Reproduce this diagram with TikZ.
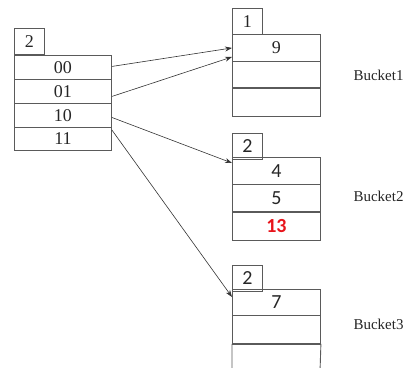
\documentclass[tikz,border=0pt]{standalone}
\usepackage{fontspec}
\setmainfont{Liberation Serif}
\newfontfamily\calfont{Carlito}
\usetikzlibrary{arrows.meta}
\definecolor{boxgray}{HTML}{5A5A5A}
\definecolor{keyred}{HTML}{E8141B}
\begin{document}
\begin{tikzpicture}[x=1pt,y=-1pt,
  cell/.style={draw=boxgray,line width=0.9pt,minimum width=88pt,minimum height=27pt,
    inner sep=0pt,anchor=north west,font=\fontsize{18}{20}\selectfont,text=black!85},
  dircell/.style={cell,minimum width=97pt,minimum height=24pt},
  depth/.style={draw=boxgray,line width=0.9pt,minimum width=30pt,minimum height=26pt,
    inner sep=0pt,anchor=north west,font=\fontsize{18}{20}\selectfont,text=black!85},
  sanscell/.style={font=\calfont\fontsize{20}{22}\selectfont},
  thickline/.style={boxgray,line width=1.8pt},
  ptr/.style={black!80,line width=0.6pt,-{Stealth[length=7pt,width=5pt]}},
  label/.style={anchor=west,font=\fontsize{15}{17}\selectfont,text=black!85}]
\useasboundingbox (0,0) rectangle (409,367);

% directory
\node[depth] (gd) at (14,28) {2};
\node[dircell] (d00) at (14,55)   {00};
\node[dircell,minimum height=24pt] (d01) at (14,79) {01};
\node[dircell,minimum height=24pt] (d10) at (14,103) {10};
\node[dircell,minimum height=23pt] (d11) at (14,127) {11};

% bucket 1
\node[depth] (ld1) at (232,8) {1};
\node[cell] (b1a) at (232,34) {9};
\node[cell] (b1b) at (232,61) {};
\node[cell,minimum height=28pt] (b1c) at (232,88) {};
\draw[thickline] (b1c.north west) -- (b1c.north east);

% bucket 2
\node[depth,sanscell] (ld2) at (232,133) {2};
\node[cell,sanscell] (b2a) at (232,157) {4};
\node[cell,sanscell] (b2b) at (232,184) {5};
\node[cell,sanscell,minimum height=28pt,text=keyred,font=\calfont\bfseries\fontsize{20}{22}\selectfont] (b2c) at (232,212) {13};
\draw[thickline] (b2c.north west) -- (b2c.north east);

% bucket 3 (runs off the bottom edge)
\node[depth,sanscell] (ld3) at (232,265) {2};
\node[cell,sanscell,minimum height=26pt] (b3a) at (232,289) {7};
\node[cell,minimum height=28pt] (b3b) at (232,315) {};
\coordinate (b3bl) at (232,372);
\coordinate (b3br) at (320,372);
\draw[boxgray,line width=0.9pt] (b3b.south west) -- (b3bl) (b3b.south east) -- (b3br);
\draw[thickline] (b3b.south west) -- (b3b.south east);

% labels
\node[label] (l1) at (350,75) {Bucket1};
\node[label] (l2) at (350,196) {Bucket2};
\node[label] (l3) at (350,324) {Bucket3};

% pointers
\draw[ptr] ([yshift=1pt]d00.east) -- ([yshift=0pt]b1a.west);
\draw[ptr] ([yshift=-5pt]d01.east) -- ([yshift=-9pt]b1a.west);
\draw[ptr] ([yshift=-2pt]d10.east) -- ([yshift=-6pt]b2a.north west);
\draw[ptr] ([yshift=-3pt]d11.north east) -- ([yshift=-8pt]b3a.north west);
\end{tikzpicture}
\end{document}
